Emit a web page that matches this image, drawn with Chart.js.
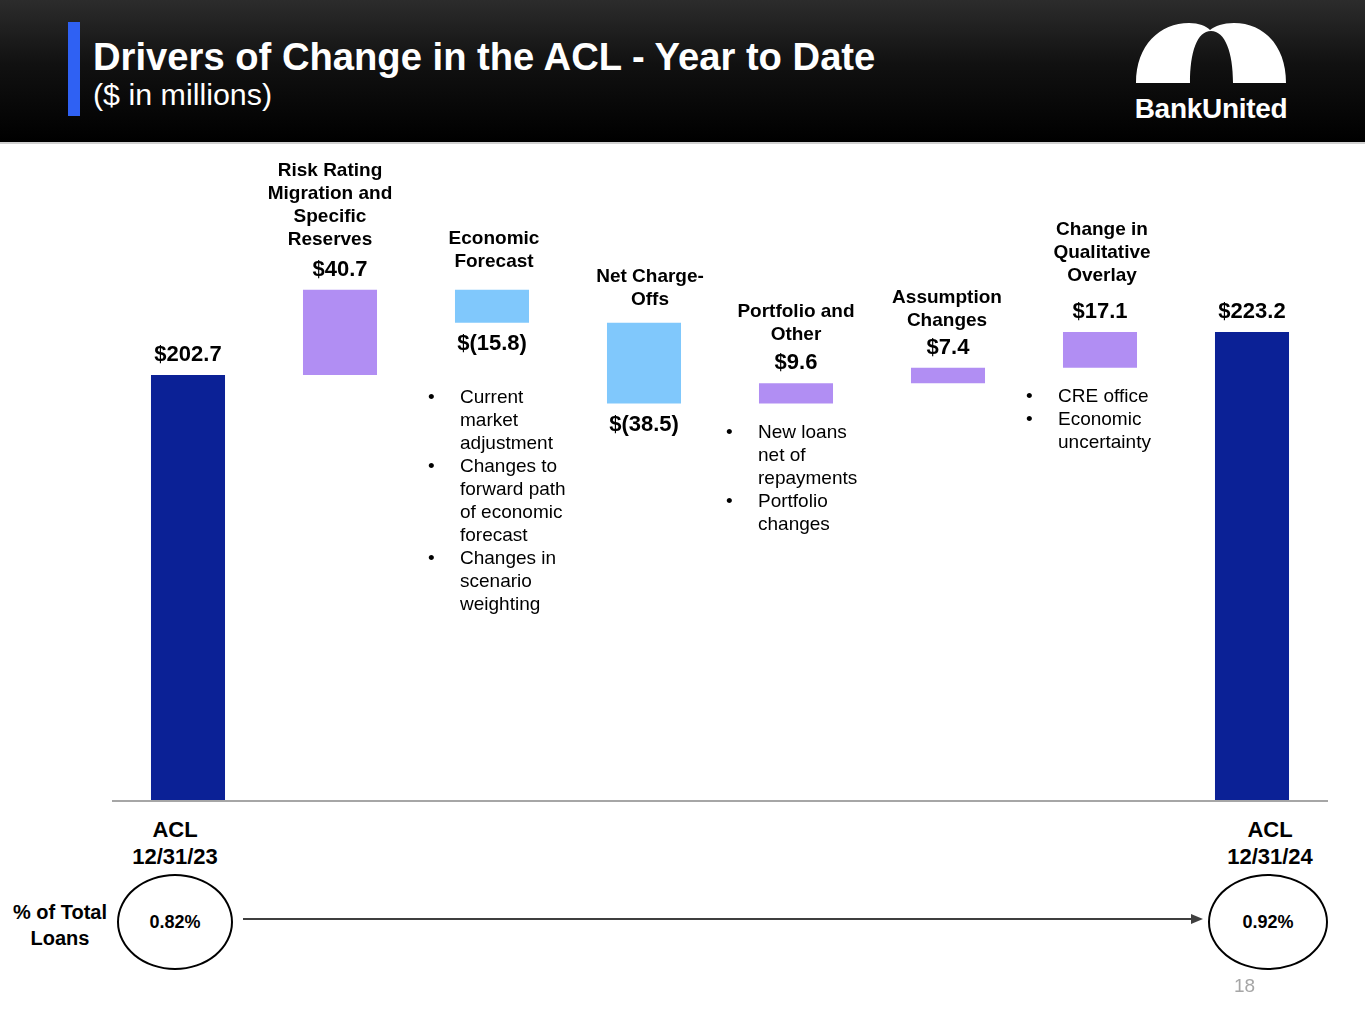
<!DOCTYPE html>
<html>
<head>
<meta charset="utf-8">
<script src="https://cdn.jsdelivr.net/npm/chart.js@4.4.1/dist/chart.umd.min.js"></script>
<style>
  html, body { margin:0; padding:0; background:#fff; }
  body { width:1365px; height:1024px; position:relative; overflow:hidden; font-family:"Liberation Sans", Arial, Helvetica, sans-serif; color:#000; }
  #header { position:absolute; left:0; top:0; width:1365px; height:142px; background:linear-gradient(#2c2c2c 0%, #111 45%, #000 100%); border-bottom:2px solid #d0d0d0; }
  #accent { position:absolute; left:68px; top:22px; width:12px; height:94px; background:#2f61f3; }
  #title { position:absolute; left:93px; top:35px; font-size:38.2px; font-weight:bold; color:#fff; line-height:44px; white-space:nowrap; }
  #subtitle { position:absolute; left:93px; top:76px; font-size:30.4px; color:#fff; line-height:36px; white-space:nowrap; }
  #brand { position:absolute; left:1131px; top:92px; width:160px; text-align:center; font-size:28px; font-weight:bold; color:#fff; letter-spacing:-0.3px; line-height:34px; }
  #logo { position:absolute; left:0; top:0; }
  #chartWrap { position:absolute; left:112px; top:150px; width:1216px; height:660px; }
  .lbl { position:absolute; white-space:nowrap; text-align:center; transform:translate(-50%, -50%); }
  .cat { font-weight:bold; font-size:19px; line-height:23px; }
  .val { font-weight:bold; font-size:22px; line-height:26px; }
  .bul { position:absolute; font-size:19px; line-height:23px; white-space:nowrap; }
  .bul .dot { position:absolute; left:-32px; }
  .acl { font-weight:bold; font-size:22px; line-height:27px; }
  #pct { position:absolute; left:0; top:899px; width:120px; text-align:center; font-weight:bold; font-size:20px; line-height:26px; }
  .ell { position:absolute; border:2px solid #000; border-radius:50%; box-sizing:border-box; display:flex; align-items:center; justify-content:center; font-weight:bold; font-size:18px; }
  #page { position:absolute; left:1234px; top:975px; font-size:19px; color:#a6a6a6; }
</style>
</head>
<body>
<div id="header"></div>
<div id="accent"></div>
<div id="title">Drivers of Change in the ACL - Year to Date</div>
<div id="subtitle">($ in millions)</div>
<svg id="logo" width="1365" height="142">
  <path d="M1136,83 C1136,45 1160,23 1189,23 C1199,23 1206,26 1210,30 C1215,26 1223,23 1234,23 C1263,23 1286,45 1286,83 L1233,83 C1233,52 1225,31 1211,31 C1197,31 1190,52 1190,83 Z" fill="#fff"/>
</svg>
<div id="brand">BankUnited</div>

<div id="chartWrap"><canvas id="c" width="1216" height="660"></canvas></div>
<div id="overlay"></div>

<div id="pct">% of Total<br>Loans</div>
<div class="ell" id="e1" style="left:117px;top:874px;width:116px;height:96px;"></div>
<div class="ell" id="e2" style="left:1208px;top:874px;width:120px;height:96px;"></div>
<svg style="position:absolute;left:0;top:0;" width="1365" height="1024">
  <line x1="243" y1="919" x2="1193" y2="919" stroke="#3f3f3f" stroke-width="2"/>
  <polygon points="1203,919 1191,914 1191,924" fill="#3f3f3f"/>
</svg>
<div id="page">18</div>

<script>
// ---- data ----
const categories = ["ACL 12/31/23", "Risk Rating Migration and Specific Reserves", "Economic Forecast", "Net Charge-Offs", "Portfolio and Other", "Assumption Changes", "Change in Qualitative Overlay", "ACL 12/31/24"];
const changes = [202.7, 40.7, -15.8, -38.5, 9.6, 7.4, 17.1, 223.2];
const isTotal = [true, false, false, false, false, false, false, true];
const valueLabels = ["$202.7", "$40.7", "$(15.8)", "$(38.5)", "$9.6", "$7.4", "$17.1", "$223.2"];
const titleLines = [
  ["ACL", "12/31/23"],
  ["Risk Rating", "Migration and", "Specific", "Reserves"],
  ["Economic", "Forecast"],
  ["Net Charge-", "Offs"],
  ["Portfolio and", "Other"],
  ["Assumption", "Changes"],
  ["Change in", "Qualitative", "Overlay"],
  ["ACL", "12/31/24"]
];
const bullets = [
  [],
  [],
  [["Current", "market", "adjustment"], ["Changes to", "forward path", "of economic", "forecast"], ["Changes in", "scenario", "weighting"]],
  [],
  [["New loans", "net of", "repayments"], ["Portfolio", "changes"]],
  [],
  [["CRE office"], ["Economic", "uncertainty"]],
  []
];
const pctLabels = ["0.82%", "0.92%"];
const yMax = 310;

// ---- layout tweaks (pixel nudges for annotation text, not data) ----
const layoutNudge = {
  titleDx: [-13, -10, 2, 6, 0, -1, 2, 18],
  titleDy: [0, 0, 0, 5, 1, 3, -7, 0],
  bulletDx: [0, 0, -32, 0, -38, 0, -42, 0]
};

// ---- derived floating ranges ----
const ranges = [];
let run = 0;
changes.forEach((v, i) => {
  if (isTotal[i]) { ranges.push([0, v]); run = v; }
  else { ranges.push([run, run + v]); run += v; }
});
const colors = changes.map((v, i) => isTotal[i] ? "#0b2196" : (v >= 0 ? "#b18ef3" : "#80c8fc"));

document.getElementById('e1').textContent = pctLabels[0];
document.getElementById('e2').textContent = pctLabels[1];

const baseline = {
  id: 'baseline',
  afterDatasetsDraw(chart) {
    const { ctx, chartArea, scales } = chart;
    const y = scales.y.getPixelForValue(0);
    ctx.save();
    ctx.strokeStyle = '#a6a6a6';
    ctx.lineWidth = 2;
    ctx.beginPath();
    ctx.moveTo(chartArea.left, y + 1);
    ctx.lineTo(chartArea.right, y + 1);
    ctx.stroke();
    ctx.restore();
  }
};

let placed = false;
const labelsPlugin = {
  id: 'labels',
  afterRender(chart) {
    if (placed) return;
    placed = true;
    const ov = document.getElementById('overlay');
    const offX = 112, offY = 150;
    const xs = chart.scales.x, ys = chart.scales.y;
    const base = ys.getPixelForValue(0) + offY;
    const mk = (cls, html, x, y) => {
      const d = document.createElement('div');
      d.className = 'lbl ' + cls;
      d.innerHTML = html;
      d.style.left = x + 'px';
      d.style.top = y + 'px';
      ov.appendChild(d);
      return d;
    };
    categories.forEach((c, i) => {
      const x = xs.getPixelForValue(i) + offX;
      const top = ys.getPixelForValue(Math.max(...ranges[i])) + offY;
      const bot = ys.getPixelForValue(Math.min(...ranges[i])) + offY;
      const lines = titleLines[i];
      const tdx = layoutNudge.titleDx[i], tdy = layoutNudge.titleDy[i];
      let bulletTop;
      if (isTotal[i]) {
        mk('val', valueLabels[i], x, top - 21);
        mk('acl', lines.join('<br>'), x + tdx, base + 43);
      } else if (changes[i] >= 0) {
        const vy = top - 21;
        mk('val', valueLabels[i], x, vy);
        const h = lines.length * 23;
        mk('cat', lines.join('<br>'), x + tdx, vy - 30 - h / 2 + 11.5 + tdy);
        bulletTop = bot + 16;
      } else {
        const h = lines.length * 23;
        mk('cat', lines.join('<br>'), x + tdx, top - 29 - h / 2 + 11.5 + tdy);
        const vy = bot + 20;
        mk('val', valueLabels[i], x, vy);
        bulletTop = vy + 42;
      }
      if (bullets[i].length) {
        const b = document.createElement('div');
        b.className = 'bul';
        b.style.left = (x + layoutNudge.bulletDx[i]) + 'px';
        b.style.top = bulletTop + 'px';
        b.innerHTML = bullets[i].map(g => '<div style="position:relative"><span class="dot">\u2022</span>' + g.join('<br>') + '</div>').join('');
        ov.appendChild(b);
      }
    });
  }
};

new Chart(document.getElementById('c'), {
  type: 'bar',
  data: {
    labels: categories,
    datasets: [{
      data: ranges,
      backgroundColor: colors,
      borderWidth: 0,
      borderSkipped: false,
      barPercentage: 0.487,
      categoryPercentage: 1.0
    }]
  },
  options: {
    responsive: false,
    animation: false,
    devicePixelRatio: 1,
    layout: { padding: { left: 0, right: 0, top: 0, bottom: 10 } },
    plugins: { legend: { display: false }, tooltip: { enabled: false } },
    scales: {
      x: { display: false },
      y: { display: false, min: 0, max: yMax }
    }
  },
  plugins: [baseline, labelsPlugin]
});
</script>
</body>
</html>
